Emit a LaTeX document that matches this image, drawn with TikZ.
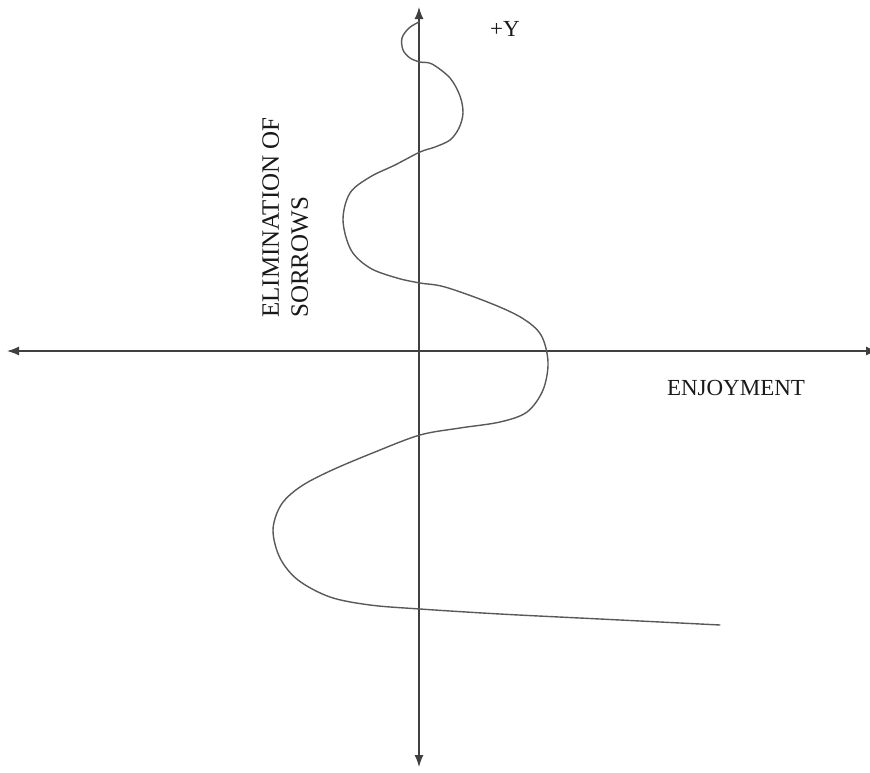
\documentclass[tikz,border=0pt]{standalone}
\usepackage{fontspec}
\setmainfont{Liberation Serif}
\usetikzlibrary{arrows.meta}
\tikzset{
  axisline/.style={draw=black!75, line width=1.3pt, {Latex[length=12pt,width=9pt]}-{Latex[length=12pt,width=9pt]}},
  curveline/.style={draw=black!65, line width=1.4pt, line join=round, line cap=round},
  lbl/.style={font=\fontsize{23}{29}\selectfont, text=black!90, inner sep=0pt}
}
\begin{document}
\begin{tikzpicture}[x=1pt,y=-1pt]
\useasboundingbox (0,0) rectangle (870,772);
\coordinate (ytop) at (419,7);
\coordinate (ybot) at (419,767);
\coordinate (xl) at (7,351);
\coordinate (xr) at (878,351);
\draw[axisline] (ybot) -- (ytop);
\draw[axisline] (xl) -- (xr);
\draw[curveline] plot[smooth, tension=0.55] coordinates {
 (720,625) (600,619) (500,614) (420,609) (370,605) (330,597) (298,580)
 (280,558) (273,530) (281,505) (300,487) (330,471) (375,452) (420,435)
 (460,428) (500,422) (527,412) (543,390) (548,362) (541,335) (522,318)
 (490,303) (445,287) (420,283) (397,278) (370,268) (351,250) (343,220)
 (350,193) (370,177) (395,165) (420,152) (435,147) (450,140) (459,128)
 (463,113) (460,96) (450,78) (432,64) (420,62) (410,58) (403,50)
 (402,38) (409,28) (419,22)};
\node[lbl] (ylab) at (505,29) {+Y};
\node[lbl] (xlab) at (736,388) {ENJOYMENT};
\node[lbl, font=\fontsize{25}{29}\selectfont, rotate=90, anchor=north west, align=left] (elim) at (262,318) {ELIMINATION OF\\SORROWS};
\end{tikzpicture}
\end{document}
